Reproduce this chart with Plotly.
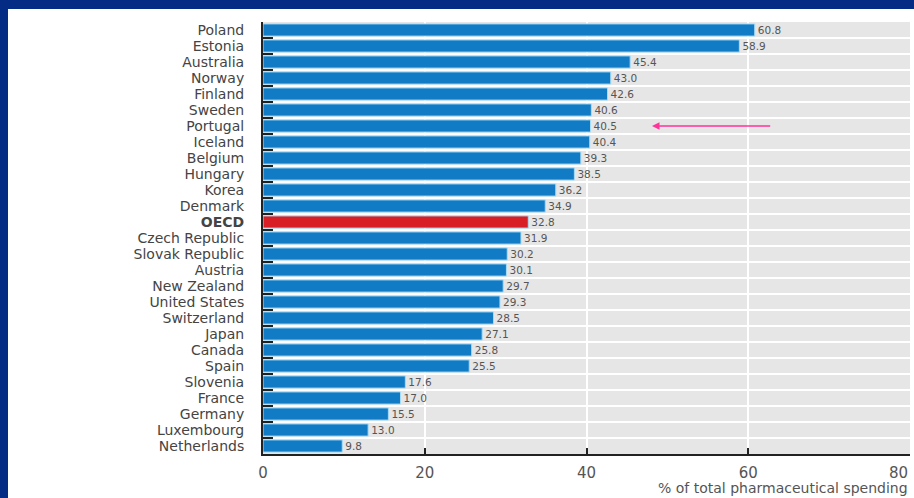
import plotly.graph_objects as go

countries = ["Poland", "Estonia", "Australia", "Norway", "Finland", "Sweden", "Portugal",
             "Iceland", "Belgium", "Hungary", "Korea", "Denmark", "OECD", "Czech Republic",
             "Slovak Republic", "Austria", "New Zealand", "United States", "Switzerland",
             "Japan", "Canada", "Spain", "Slovenia", "France", "Germany", "Luxembourg",
             "Netherlands"]
values = [60.8, 58.9, 45.4, 43.0, 42.6, 40.6, 40.5, 40.4, 39.3, 38.5, 36.2, 34.9, 32.8,
          31.9, 30.2, 30.1, 29.7, 29.3, 28.5, 27.1, 25.8, 25.5, 17.6, 17.0, 15.5, 13.0, 9.8]
x_ticks = [0, 20, 40, 60, 80]
x_title = "% of total pharmaceutical spending"
highlight = "OECD"
arrow_target = "Portugal"

FRAME = "#042c84"
BORDER_TOP, BORDER_LEFT = 9, 8
W, H = 914 - BORDER_LEFT, 498 - BORDER_TOP
L, R, T, B = 263 - BORDER_LEFT, 4, 22 - BORDER_TOP, 44

BLUE = "#127bc6"
RED = "#d91f26"
colors = [RED if c == highlight else BLUE for c in countries]
ticktext = ["<b>%s</b>" % c if c == highlight else c for c in countries]
# last x tick label is drawn right-aligned at the axis end (as in the source)
x_ticktext = [str(v) for v in x_ticks[:-1]] + [""]

fig = go.Figure(go.Bar(
    x=values, y=countries, orientation="h",
    marker=dict(color=colors, line=dict(color="#a8dcf3", width=1)),
    text=["%.1f" % v for v in values], textposition="outside",
    textfont=dict(family="DejaVu Sans", size=13, color="#555555"),
    cliponaxis=False, width=0.76,
))

fig.update_layout(
    width=W, height=H,
    margin=dict(l=L, r=R, t=T, b=B),
    paper_bgcolor="white", plot_bgcolor="#e6e6e6",
    showlegend=False,
    font=dict(family="DejaVu Sans", color="#444444"),
    xaxis=dict(range=[0, 80], tickvals=x_ticks, ticktext=x_ticktext, ticks="inside",
               ticklen=6, tickwidth=2,
               tickcolor="#222222", showline=True, linecolor="#222222", linewidth=2,
               showgrid=True, gridcolor="white", gridwidth=2, zeroline=False,
               tickfont=dict(size=15, color="#555555"), ticklabelstandoff=4),
    yaxis=dict(autorange="reversed", categoryorder="array", categoryarray=countries,
               tickvals=countries, ticktext=ticktext, tickson="boundaries",
               ticks="inside", ticklen=10, tickwidth=2, tickcolor="#222222",
               showline=True, linecolor="#222222", linewidth=2,
               showgrid=True, gridcolor="white", gridwidth=1.5,
               tickfont=dict(size=14, color="#444444"), ticklabelstandoff=14),
    annotations=[
        dict(x=48.1, y=arrow_target, ax=62.9, ay=arrow_target, xref="x", yref="y",
             axref="x", ayref="y", text="", showarrow=True, arrowhead=2, arrowsize=1,
             arrowwidth=1.5, arrowcolor="#ff3399"),
        dict(x=x_ticks[-1], y=0, xref="x", yref="paper", xanchor="right", yanchor="top",
             yshift=-8, text=str(x_ticks[-1]), showarrow=False,
             font=dict(size=15, color="#555555")),
        dict(x=1, y=0, xref="paper", yref="paper", xanchor="right", yanchor="top",
             yshift=-24, text=x_title, showarrow=False,
             font=dict(size=14, color="#555555")),
    ],
)

css = ("var d=document.documentElement,b=document.body;"
       "d.style.overflow='hidden';d.style.background='white';"
       "b.style.margin='0';b.style.padding='0';b.style.overflow='hidden';"
       "b.style.background='white';b.style.width='%dpx';"
       "b.style.borderTop='%dpx solid %s';b.style.borderLeft='%dpx solid %s';"
       % (W, BORDER_TOP, FRAME, BORDER_LEFT, FRAME))

fig.write_html("out.html", config={"displayModeBar": False}, post_script=css)
